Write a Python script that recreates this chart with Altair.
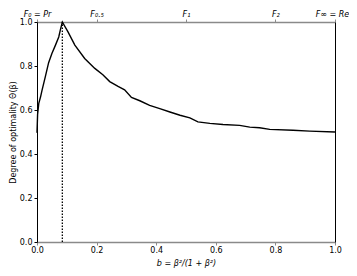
import altair as alt
import pandas as pd

# Curve: degree of optimality vs b
b_vals = [0.0, 0.002, 0.006, 0.012, 0.017, 0.028, 0.039, 0.05, 0.062, 0.073, 0.078, 0.085,
          0.104, 0.127, 0.16, 0.194, 0.221, 0.244, 0.272, 0.294, 0.317, 0.345, 0.378,
          0.412, 0.446, 0.48, 0.513, 0.54, 0.58, 0.624, 0.68, 0.714, 0.747, 0.781,
          0.859, 0.915, 1.0]
theta_vals = [0.496, 0.58, 0.63, 0.66, 0.69, 0.752, 0.815, 0.857, 0.895, 0.932, 0.962, 1.0,
              0.955, 0.895, 0.834, 0.789, 0.76, 0.729, 0.707, 0.692, 0.657, 0.642, 0.621,
              0.606, 0.591, 0.576, 0.564, 0.546, 0.539, 0.534, 0.53, 0.522, 0.519, 0.512,
              0.508, 0.504, 0.5]

# Optimum marker
peak_b = [0.085]
peak_lo = [0.0]
peak_hi = [1.0]

# Top axis (F-measure) ticks
top_ticks = [0.0, 0.2, 0.5, 0.8, 1.0]
top_labels = ["F₀ = Pr", "F₀.₅", "F₁", "F₂", "F∞ = Re"]

ticks = [0.0, 0.2, 0.4, 0.6, 0.8, 1.0]

df = pd.DataFrame({"b": b_vals, "theta": theta_vals})
peak_df = pd.DataFrame({"b": peak_b, "lo": peak_lo, "hi": peak_hi})

FONT = "DejaVu Sans"
FS = 8
GRAY = "#8a8a8a"

label_expr = " : ".join(
    f"datum.value == {v} ? '{t}'" for v, t in zip(top_ticks, top_labels)
) + " : ''"

xscale = alt.Scale(domain=[0, 1], nice=False, zero=False)
yscale = alt.Scale(domain=[0, 1], nice=False)

line = alt.Chart(df).mark_line(color="black", strokeWidth=1.4).encode(
    x=alt.X("b:Q", scale=xscale,
            axis=alt.Axis(orient="bottom", values=ticks, format=".1f",
                          title="b = β²/(1 + β²)", titleFontStyle="italic",
                          titleFontWeight="normal", titleFont=FONT, titleFontSize=FS,
                          titleY=21, titleBaseline="middle",
                          labelFont=FONT, labelFontSize=FS, labelFlush=False,
                          labelOverlap=False, labelPadding=1,
                          domainColor=GRAY, domainWidth=1.6, tickColor=GRAY,
                          tickSize=3, grid=False, labelColor="black")),
    y=alt.Y("theta:Q", scale=yscale,
            axis=alt.Axis(orient="left", values=ticks, format=".1f",
                          title="Degree of optimality Θ(β)",
                          titleFontWeight="normal", titleFont=FONT, titleFontSize=FS,
                          titleX=-24, titleBaseline="middle", titleAngle=270,
                          labelFont=FONT, labelFontSize=FS, labelPadding=2,
                          labelFlush=False, labelOverlap=False,
                          domainColor="black", domainWidth=1, tickColor="black",
                          tickSize=3, grid=False, labelColor="black")),
)

rule = alt.Chart(peak_df).mark_rule(color="black", strokeWidth=1.3,
                                    strokeDash=[1.5, 1.5]).encode(
    x=alt.X("b:Q", scale=xscale,
            axis=alt.Axis(orient="top", values=top_ticks, labelExpr=label_expr,
                          title=None, labelFont=FONT, labelFontSize=8,
                          labelFontStyle="italic", labelFlush=False,
                          labelOverlap=False, labelPadding=3,
                          labelBaseline="alphabetic",
                          labelOffset={"condition": {"test": "datum.value == 1", "value": -3},
                                       "value": 0},
                          domainColor=GRAY, domainWidth=1.6, tickColor=GRAY,
                          tickSize=3, grid=False, labelColor="black")),
    y=alt.Y("lo:Q", scale=yscale,
            axis=alt.Axis(orient="right", labels=False, ticks=False, title=None,
                          domainColor="black", domainWidth=1, grid=False)),
    y2="hi:Q",
)

chart = alt.layer(line, rule).resolve_axis(x="independent", y="independent").properties(
    width=298, height=220,
    autosize=alt.AutoSizeParams(type="none"),
    padding={"left": 29, "top": 14, "right": 14, "bottom": 26},
).configure_view(stroke=None)

chart.save("out.html", embed_options={"renderer": "svg", "actions": False})
